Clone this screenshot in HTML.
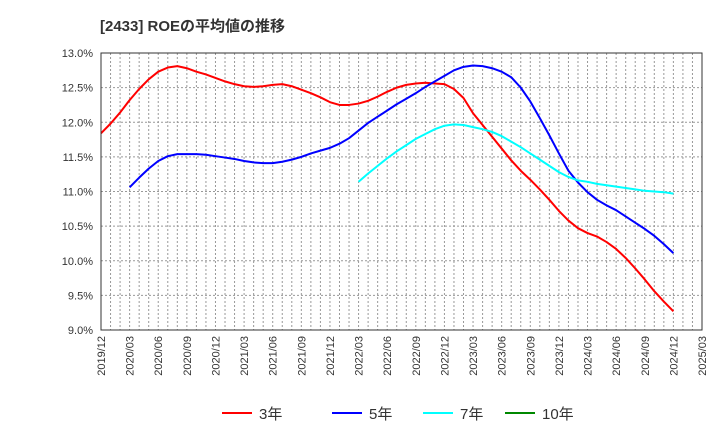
<!DOCTYPE html>
<html><head><meta charset="utf-8"><style>
body{margin:0;background:#fff;}
svg{font-family:"Liberation Sans","Noto Sans CJK JP",sans-serif;}
</style></head><body>
<svg id="c" width="720" height="440">
<text x="100" y="31" font-size="15" font-weight="bold" fill="#333">[2433]  ROEの平均値の推移</text>
<g id="grid"></g><g id="series"></g><g id="axes"></g>
</svg>
<script>
const months = 63; // 2019/12 .. 2025/03
const tickLabels = ["2019/12","2020/03","2020/06","2020/09","2020/12","2021/03","2021/06","2021/09","2021/12","2022/03","2022/06","2022/09","2022/12","2023/03","2023/06","2023/09","2023/12","2024/03","2024/06","2024/09","2024/12","2025/03"];
const yTicks = [9.0,9.5,10.0,10.5,11.0,11.5,12.0,12.5,13.0];
const roe3 = [11.84,11.98,12.14,12.32,12.48,12.62,12.73,12.79,12.81,12.78,12.73,12.69,12.64,12.59,12.55,12.52,12.51,12.52,12.54,12.55,12.52,12.47,12.42,12.36,12.29,12.25,12.25,12.27,12.31,12.37,12.44,12.50,12.54,12.56,12.57,12.56,12.55,12.48,12.35,12.13,11.96,11.79,11.62,11.45,11.30,11.17,11.03,10.88,10.72,10.58,10.47,10.40,10.35,10.27,10.17,10.04,9.89,9.73,9.56,9.41,9.27];
const roe5 = [11.06,11.20,11.33,11.44,11.51,11.54,11.54,11.54,11.53,11.51,11.49,11.47,11.44,11.42,11.41,11.41,11.43,11.46,11.50,11.55,11.59,11.63,11.69,11.77,11.88,11.99,12.08,12.17,12.26,12.34,12.42,12.51,12.59,12.67,12.75,12.80,12.82,12.81,12.78,12.73,12.65,12.50,12.30,12.06,11.81,11.55,11.30,11.13,10.99,10.88,10.80,10.73,10.64,10.55,10.46,10.36,10.24,10.11];
const roe7 = [11.14,11.26,11.37,11.48,11.58,11.67,11.76,11.83,11.90,11.95,11.97,11.96,11.93,11.90,11.86,11.80,11.72,11.64,11.55,11.46,11.37,11.28,11.21,11.16,11.14,11.11,11.09,11.07,11.05,11.03,11.01,11.00,10.99,10.97];
const roe10 = [];
const L=101,R=702,T=53,B=330;
const x=i=>L+i*(R-L)/months;
const y=v=>B-(v-9)*(B-T)/4;
const NS="http://www.w3.org/2000/svg";
function mk(tag,attrs,parent){const e=document.createElementNS(NS,tag);for(const k in attrs)e.setAttribute(k,attrs[k]);parent.appendChild(e);return e;}
const grid=document.getElementById('grid'),axes=document.getElementById('axes'),ser=document.getElementById('series');
for(let i=1;i<months;i++){const l=mk('line',{x1:x(i),x2:x(i),y1:T,y2:B,stroke:'#999','stroke-dasharray':'2,2'},grid);

}
yTicks.forEach(v=>{const l=mk('line',{x1:L,x2:R,y1:y(v),y2:y(v),stroke:'#999','stroke-dasharray':'2,2'},grid);


const t=mk('text',{x:L-8,y:y(v)+4,'text-anchor':'end','font-size':11,fill:'#333'},axes);t.textContent=v.toFixed(1)+'%';

});
const fr=mk('rect',{x:L,y:T,width:R-L,height:B-T,fill:'none',stroke:'#333'},axes);


tickLabels.forEach((s,k)=>{const xx=x(k*3)+4;const t=mk('text',{x:xx,y:B+6,'text-anchor':'end','font-size':11,fill:'#333',transform:`rotate(-90 ${xx} ${B+6})`},axes);t.textContent=s;

});
function line(arr,start,color,name){if(!arr.length)return;const p=mk('polyline',{points:arr.map((v,i)=>x(start+i)+','+y(v)).join(' '),fill:'none',stroke:color,'stroke-width':2,'stroke-linejoin':'round'},ser);

}
line(roe3,0,'#f00','line-3y');
line(roe5,3,'#00f','line-5y');
line(roe7,27,'#0ff','line-7y');
line(roe10,51,'#080','line-10y');
const leg=[['3年','#f00',222],['5年','#00f',332],['7年','#0ff',423],['10年','#080',505]];
leg.forEach(([s,c,lx])=>{const g=mk('g',{},axes);


mk('line',{x1:lx,x2:lx+30,y1:413,y2:413,stroke:c,'stroke-width':2},g);
const t=mk('text',{x:lx+37,y:419,'font-size':15,fill:'#333'},g);t.textContent=s;});
</script>
</body></html>
